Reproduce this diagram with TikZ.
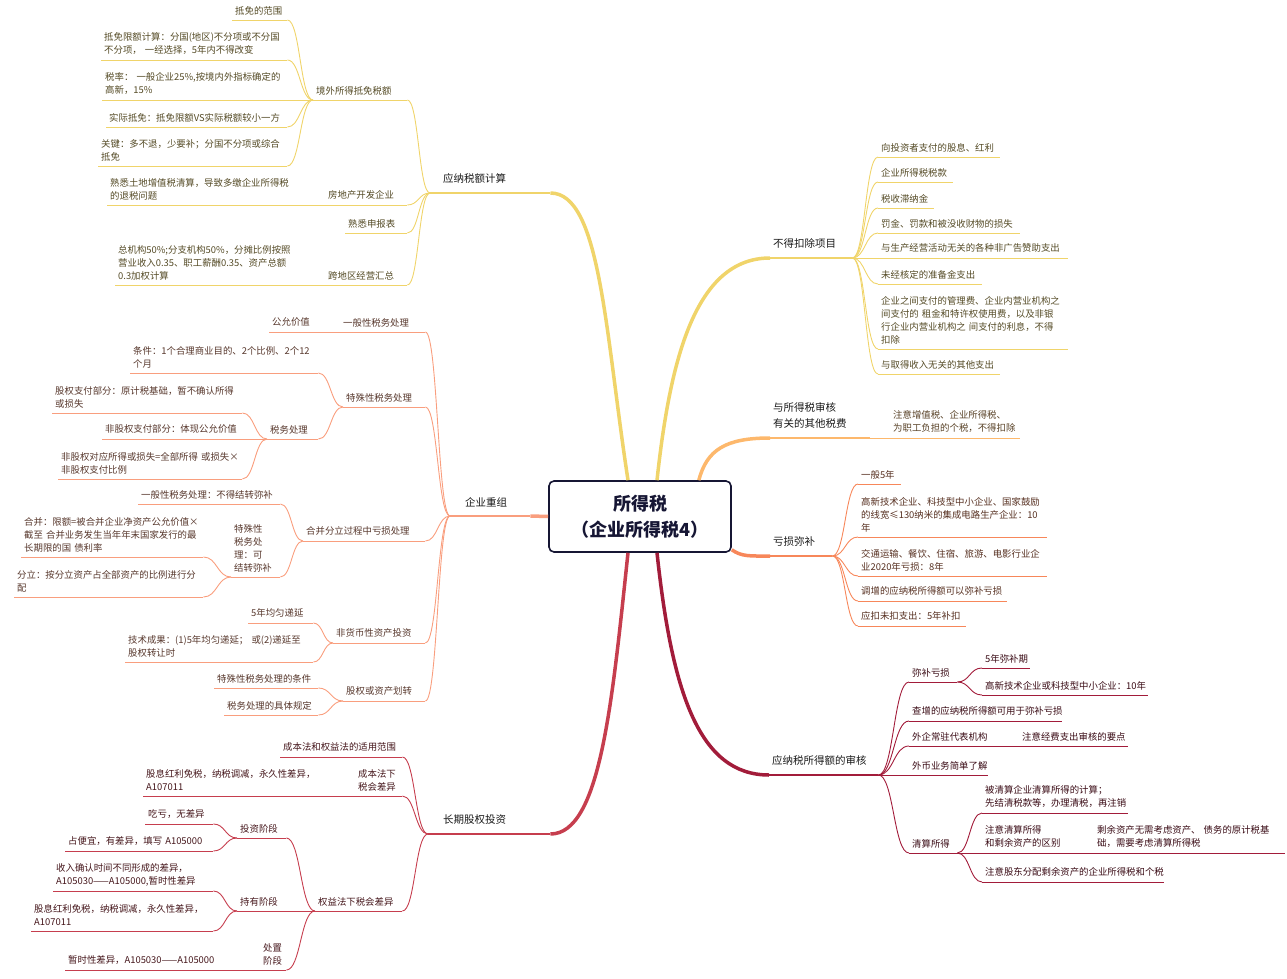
\documentclass[tikz,border=0pt]{standalone}
\usepackage{fontspec}
\setmainfont{Noto Sans CJK SC}
\usetikzlibrary{calc}
\definecolor{calcY}{RGB}{240,212,106}
\definecolor{taxO}{RGB}{253,184,108}
\definecolor{lossS}{RGB}{247,135,90}
\definecolor{reorgS}{RGB}{249,158,126}
\definecolor{equityR}{RGB}{198,62,78}
\definecolor{auditM}{RGB}{162,28,58}
\definecolor{rootB}{RGB}{22,22,52}
\newcommand\leaffont{\fontsize{9.4pt}{13pt}\selectfont}
\newcommand\branchfont{\fontsize{10.5pt}{16pt}\selectfont}
\tikzset{rootbox/.style={
        draw=rootB,
        line width=1.6pt,
        rounded corners=5pt,
        fill=white,
        minimum width=182pt,
        minimum height=71pt,
        align=center,
        text=rootB,
        font=\bfseries\fontsize{18pt}{26pt}\selectfont
}}
\tikzset{topic/.style={
        anchor=south west,
        align=left,
        inner xsep=3pt,
        inner ysep=5pt,
        font=\leaffont,
        text=#1!35!black,
        append after command={(\tikzlastnode.south west) edge[draw=#1, line width=0.9pt] (\tikzlastnode.south east)}
}}
\tikzset{branch/.style={
        anchor=south west,
        align=left,
        inner xsep=3pt,
        inner ysep=9pt,
        font=\branchfont,
        text=black!90,
        append after command={(\tikzlastnode.south west) edge[draw=#1, line width=2pt] (\tikzlastnode.south east)}
}}
\tikzset{link/.style={to path={let \p1=(\tikztostart), \p2=(\tikztotarget) in
        .. controls ({(\x1+\x2)/2},\y1) and ({(\x1+\x2)/2},\y2) .. (\tikztotarget)}}}
\tikzset{lk/.style={draw=#1, line width=0.9pt}}
\tikzset{trunk/.style={draw=#1, line width=3.5pt}}

\begin{document}
\begin{tikzpicture}[x=1pt, y=-1pt]
\useasboundingbox (0,0) rectangle (1287,979);
\node[rootbox] (root) at (640,516.5) {所得税\\（企业所得税4）};

% 应纳税额计算
\node[branch=calcY, inner xsep=13pt, text width=94pt] (calc) at (430,193) {应纳税额计算};
\node[topic=calcY, text width=88pt] (foreign) at (313,100) {境外所得抵免税额};
\node[topic=calcY, text width=49pt] (fscope) at (232,20) {抵免的范围};
\node[topic=calcY, text width=180pt] (flimit) at (101,60) {抵免限额计算：分国(地区)不分项或不分国\\不分项，~一经选择，5年内不得改变};
\node[topic=calcY, text width=179pt] (frate) at (102,100) {税率：~一般企业25\%,按境内外指标确定的\\高新，15\%};
\node[topic=calcY, text width=175pt] (factual) at (106,127) {实际抵免：抵免限额VS实际税额较小一方};
\node[topic=calcY, text width=183pt] (fkey) at (98,166) {关键：多不退，少要补；分国不分项或综合\\抵免};
\node[topic=calcY, text width=76pt] (realty) at (325,205) {房地产开发企业};
\node[topic=calcY, text width=187pt] (realtyq) at (107,205) {熟悉土地增值税清算，导致多缴企业所得税\\的退税问题};
\node[topic=calcY, text width=56pt] (report) at (345,233) {熟悉申报表};
\node[topic=calcY, text width=76pt] (cross) at (325,285) {跨地区经营汇总};
\node[topic=calcY, text width=189pt] (crossq) at (115,285) {总机构50\%;分支机构50\%，分摊比例按照\\营业收入0.35、职工薪酬0.35、资产总额\\0.3加权计算};

% 不得扣除项目
\node[branch=calcY, text width=76pt] (nodeduct) at (770,258) {不得扣除项目};
\node[topic=calcY, text width=116pt] (nd1) at (878,157) {向投资者支付的股息、红利};
\node[topic=calcY, text width=69pt] (nd2) at (878,182) {企业所得税税款};
\node[topic=calcY, text width=50pt] (nd3) at (878,208) {税收滞纳金};
\node[topic=calcY, text width=136pt] (nd4) at (878,233) {罚金、罚款和被没收财物的损失};
\node[topic=calcY, text width=184pt] (nd5) at (878,258) {与生产经营活动无关的各种非广告赞助支出};
\node[topic=calcY, text width=98pt] (nd6) at (878,284) {未经核定的准备金支出};
\node[topic=calcY, text width=184pt] (nd7) at (878,349) {企业之间支付的管理费、企业内营业机构之\\间支付的~租金和特许权使用费，以及非银\\行企业内营业机构之~间支付的利息，不得\\扣除};
\node[topic=calcY, text width=116pt] (nd8) at (878,374) {与取得收入无关的其他支出};

% 与所得税审核有关的其他税费
\node[branch=taxO, text width=94pt] (other) at (770,438) {与所得税审核\\有关的其他税费};
\node[topic=taxO, text width=124pt] (otherq) at (890,438) {注意增值税、企业所得税、\\为职工负担的个税，不得扣除};

% 亏损弥补
\node[branch=lossS, text width=56pt] (loss) at (770,556) {亏损弥补};
\node[topic=lossS, text width=37pt] (loss1) at (858,484) {一般5年};
\node[topic=lossS, text width=183pt] (loss2) at (858,537) {高新技术企业、科技型中小企业、国家鼓励\\的线宽≤130纳米的集成电路生产企业：10\\年};
\node[topic=lossS, text width=183pt] (loss3) at (858,576) {交通运输、餐饮、住宿、旅游、电影行业企\\业2020年亏损：8年};
\node[topic=lossS, text width=143pt] (loss4) at (858,601) {调增的应纳税所得额可以弥补亏损};
\node[topic=lossS, text width=102pt] (loss5) at (858,626) {应扣未扣支出：5年补扣};

% 应纳税所得额的审核
\node[branch=auditM, text width=103pt] (audit) at (769,775) {应纳税所得额的审核};
\node[topic=auditM, text width=42pt] (comp) at (909,682) {弥补亏损};
\node[topic=auditM, text width=42pt] (comp1) at (982,668) {5年弥补期};
\node[topic=auditM, text width=160pt] (comp2) at (982,695) {高新技术企业或科技型中小企业：10年};
\node[topic=auditM, text width=147pt] (found) at (909,721) {查增的应纳税所得额可用于弥补亏损};
\node[topic=auditM, text width=85pt] (resident) at (909,746) {外企常驻代表机构};
\node[topic=auditM, text width=103pt] (residentq) at (1019,746) {注意经费支出审核的要点};
\node[topic=auditM, text width=73pt] (forex) at (909,775) {外币业务简单了解};
\node[topic=auditM, text width=42pt] (liq) at (909,853) {清算所得};
\node[topic=auditM, text width=140pt] (liq1) at (982,813) {被清算企业清算所得的计算；\\先结清税款等，办理清税，再注销};
\node[topic=auditM, text width=87pt] (liq2) at (982,853) {注意清算所得\\和剩余资产的区别};
\node[topic=auditM, text width=185pt] (liq2a) at (1094,853) {剩余资产无需考虑资产、~债务的原计税基\\础，需要考虑清算所得税};
\node[topic=auditM, text width=176pt] (liq3) at (982,882) {注意股东分配剩余资产的企业所得税和个税};

% 企业重组
\node[branch=reorgS, inner xsep=15pt, text width=50pt] (reorg) at (450,516) {企业重组};
\node[topic=reorgS, text width=79pt] (general) at (340,332) {一般性税务处理};
\node[topic=reorgS, text width=43pt] (generalq) at (269,332) {公允价值};
\node[topic=reorgS, text width=76pt] (special) at (343,407) {特殊性税务处理};
\node[topic=reorgS, text width=182pt] (specialq) at (130,373) {条件：1个合理商业目的、2个比例、2个12\\个月};
\node[topic=reorgS, text width=45pt] (specialtax) at (267,439) {税务处理};
\node[topic=reorgS, text width=184pt] (st1) at (52,413) {股权支付部分：原计税基础，暂不确认所得\\或损失};
\node[topic=reorgS, text width=134pt] (st2) at (102,439) {非股权支付部分：体现公允价值};
\node[topic=reorgS, text width=178pt] (st3) at (58,479) {非股权对应所得或损失=全部所得~或损失×\\非股权支付比例};
\node[topic=reorgS, text width=116pt] (merge) at (303,541) {合并分立过程中亏损处理};
\node[topic=reorgS, text width=136pt] (mergeg) at (138,504) {一般性税务处理：不得结转弥补};
\node[topic=reorgS, text width=43pt] (merges) at (231,577) {特殊性\\税务处\\理：可\\结转弥补};
\node[topic=reorgS, text width=176pt] (mergem) at (21,557) {合并：限额=被合并企业净资产公允价值×\\截至~合并业务发生当年年末国家发行的最\\长期限的国~债利率};
\node[topic=reorgS, text width=183pt] (mergesp) at (14,597) {分立：按分立资产占全部资产的比例进行分\\配};
\node[topic=reorgS, text width=86pt] (nonmon) at (333,643) {非货币性资产投资};
\node[topic=reorgS, text width=59pt] (nonmon1) at (248,623) {5年均匀递延};
\node[topic=reorgS, text width=182pt] (nonmon2) at (125,662) {技术成果：(1)5年均匀递延；~或(2)递延至\\股权转让时};
\node[topic=reorgS, text width=76pt] (transfer) at (343,701) {股权或资产划转};
\node[topic=reorgS, text width=98pt] (transfer1) at (214,688) {特殊性税务处理的条件};
\node[topic=reorgS, text width=88pt] (transfer2) at (224,715) {税务处理的具体规定};

% 长期股权投资
\node[branch=equityR, inner xsep=15pt, text width=92pt] (equity) at (428,834) {长期股权投资};
\node[topic=equityR, text width=116pt] (scope) at (280,757) {成本法和权益法的适用范围};
\node[topic=equityR, text width=41pt] (costm) at (355,796) {成本法下\\税会差异};
\node[topic=equityR, text width=181pt] (costmq) at (143,796) {股息红利免税，纳税调减，永久性差异，\\A107011};
\node[topic=equityR, text width=81pt] (eqm) at (315,911) {权益法下税会差异};
\node[topic=equityR, text width=43pt] (invest) at (237,838) {投资阶段};
\node[topic=equityR, text width=62pt] (invest1) at (145,824) {吃亏，无差异};
\node[topic=equityR, text width=142pt] (invest2) at (65,851) {占便宜，有差异，填写~A105000};
\node[topic=equityR, text width=43pt] (hold) at (237,911) {持有阶段};
\node[topic=equityR, text width=154pt] (hold1) at (53,891) {收入确认时间不同形成的差异，\\A105030——A105000,暂时性差异};
\node[topic=equityR, text width=176pt] (hold2) at (31,931) {股息红利免税，纳税调减，永久性差异，\\A107011};
\node[topic=equityR, text width=20pt] (dispose) at (260,970) {处置\\阶段};
\node[topic=equityR, text width=169pt] (dispose1) at (65,970) {暂时性差异，A105030——A105000};

% trunks
\draw[trunk=calcY] ([xshift=-12pt]root.north) .. controls +(-23,-150) and +(50,0) .. (calc.south east);
\draw[trunk=calcY] ([xshift=17pt]root.north) .. controls +(13,-120) and +(-75,0) .. (nodeduct.south west);
\draw[trunk=taxO] ([xshift=-33pt]root.north east) .. controls +(8,-30) and +(-45,0) .. (other.south west);
\draw[trunk=lossS] ([yshift=3pt]root.south east) .. controls +(10,7) and +(-20,0) .. (loss.south west);
\draw[trunk=auditM] ([xshift=17pt]root.south) .. controls +(15,140) and +(-70,0) .. (audit.south west);
\draw[trunk=equityR] ([xshift=-12pt]root.south) .. controls +(-16,150) and +(50,0) .. (equity.south east);
\draw[trunk=reorgS] (root.west) -- (reorg.south east);

% links
\draw[lk=calcY] (calc.south west) edge[link] (foreign.south east) edge[link] (realty.south east) edge[link] (report.south east) edge[link] (cross.south east);
\draw[lk=calcY] (foreign.south west) edge[link] (fscope.south east) edge[link] (flimit.south east) edge[link] (frate.south east) edge[link] (factual.south east) edge[link] (fkey.south east);
\draw[lk=calcY] (realty.south west) edge[link] (realtyq.south east);
\draw[lk=calcY] (cross.south west) edge[link] (crossq.south east);
\draw[lk=calcY] (nodeduct.south east) edge[link] (nd1.south west) edge[link] (nd2.south west) edge[link] (nd3.south west) edge[link] (nd4.south west) edge[link] (nd5.south west) edge[link] (nd6.south west) edge[link] (nd7.south west) edge[link] (nd8.south west);
\draw[lk=taxO] (other.south east) edge[link] (otherq.south west);
\draw[lk=lossS] (loss.south east) edge[link] (loss1.south west) edge[link] (loss2.south west) edge[link] (loss3.south west) edge[link] (loss4.south west) edge[link] (loss5.south west);
\draw[lk=auditM] (audit.south east) edge[link] (comp.south west) edge[link] (found.south west) edge[link] (resident.south west) edge[link] (forex.south west) edge[link] (liq.south west);
\draw[lk=auditM] (comp.south east) edge[link] (comp1.south west) edge[link] (comp2.south west);
\draw[lk=auditM] (resident.south east) edge[link] (residentq.south west);
\draw[lk=auditM] (liq.south east) edge[link] (liq1.south west) edge[link] (liq2.south west) edge[link] (liq3.south west);
\draw[lk=auditM] (liq2.south east) edge[link] (liq2a.south west);
\draw[lk=reorgS] (reorg.south west) edge[link] (general.south east) edge[link] (special.south east) edge[link] (merge.south east) edge[link] (nonmon.south east) edge[link] (transfer.south east);
\draw[lk=reorgS] (general.south west) edge[link] (generalq.south east);
\draw[lk=reorgS] (special.south west) edge[link] (specialq.south east) edge[link] (specialtax.south east);
\draw[lk=reorgS] (specialtax.south west) edge[link] (st1.south east) edge[link] (st2.south east) edge[link] (st3.south east);
\draw[lk=reorgS] (merge.south west) edge[link] (mergeg.south east) edge[link] (merges.south east);
\draw[lk=reorgS] (merges.south west) edge[link] (mergem.south east) edge[link] (mergesp.south east);
\draw[lk=reorgS] (nonmon.south west) edge[link] (nonmon1.south east) edge[link] (nonmon2.south east);
\draw[lk=reorgS] (transfer.south west) edge[link] (transfer1.south east) edge[link] (transfer2.south east);
\draw[lk=equityR] (equity.south west) edge[link] (scope.south east) edge[link] (costm.south east) edge[link] (eqm.south east);
\draw[lk=equityR] (costm.south west) edge[link] (costmq.south east);
\draw[lk=equityR] (eqm.south west) edge[link] (invest.south east) edge[link] (hold.south east) edge[link] (dispose.south east);
\draw[lk=equityR] (invest.south west) edge[link] (invest1.south east) edge[link] (invest2.south east);
\draw[lk=equityR] (hold.south west) edge[link] (hold1.south east) edge[link] (hold2.south east);
\draw[lk=equityR] (dispose.south west) edge[link] (dispose1.south east);
\end{tikzpicture}
\end{document}
